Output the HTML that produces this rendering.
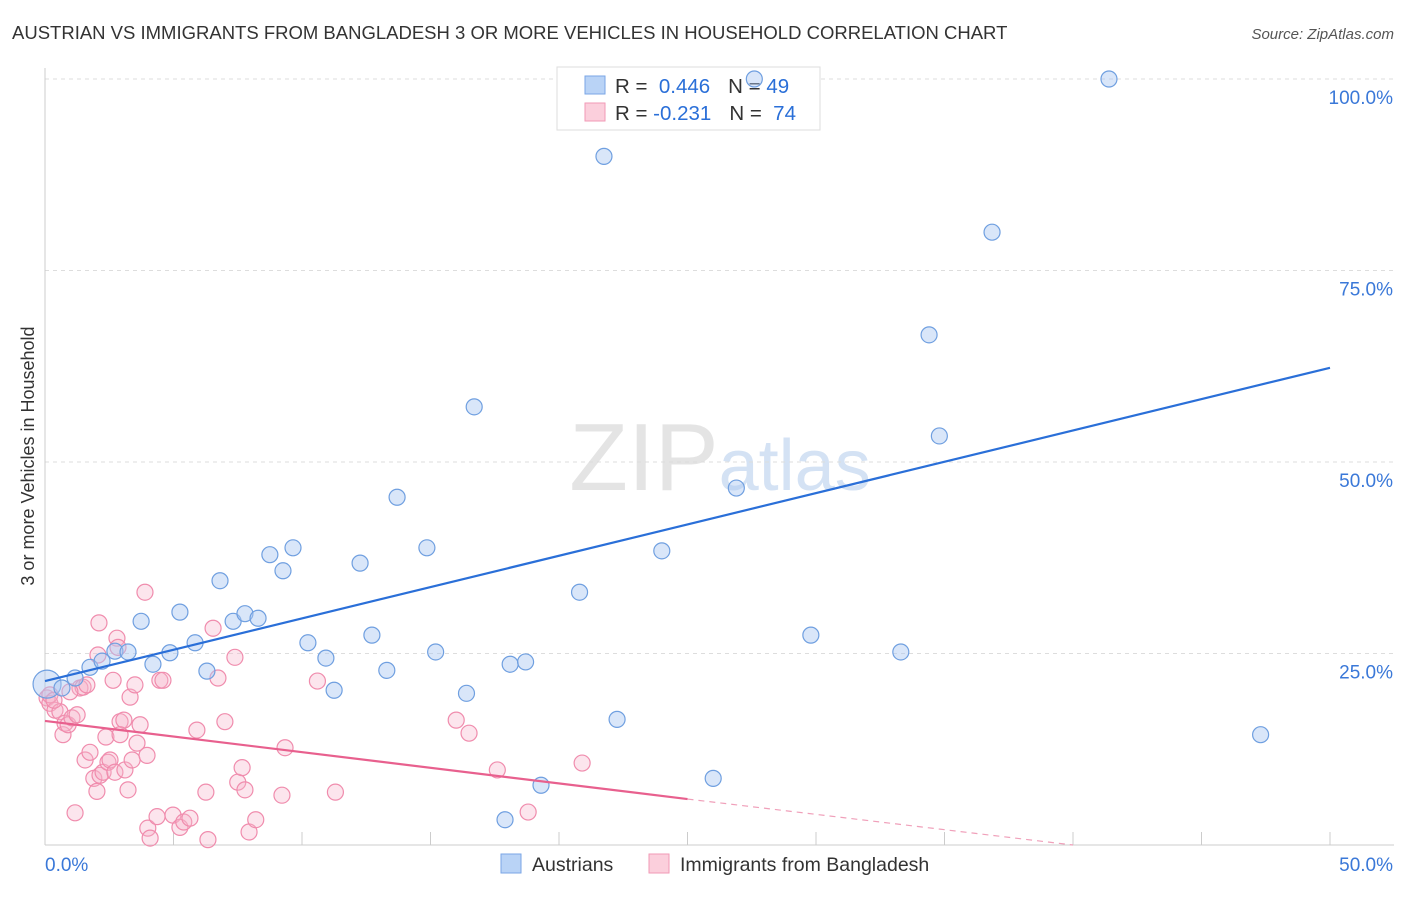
<!DOCTYPE html>
<html><head><meta charset="utf-8"><style>
body{margin:0;background:#fff;font-family:"Liberation Sans",sans-serif;}
svg text{font-family:"Liberation Sans",sans-serif;}
</style></head><body>
<svg id="chart" width="1406" height="892">
<text x="12" y="39" font-size="18.5" fill="#333">AUSTRIAN VS IMMIGRANTS FROM BANGLADESH 3 OR MORE VEHICLES IN HOUSEHOLD CORRELATION CHART</text>
<text x="1394" y="39" font-size="15" fill="#555" font-style="italic" text-anchor="end">Source: ZipAtlas.com</text>
<text x="720" y="490" font-size="96" fill="#e4e4e4" text-anchor="middle" font-family="Liberation Serif">ZIP<tspan fill="#d4e2f4" font-family="Liberation Sans" font-size="72">atlas</tspan></text>
<text transform="translate(34,456) rotate(-90)" font-size="18" fill="#333" text-anchor="middle">3 or more Vehicles in Household</text>
<g id="grid"></g><g id="ticks"></g>
<g>
<rect x="557" y="67" width="263" height="63" fill="#fff" stroke="#ddd"/>
<rect x="585" y="76" width="20" height="18" fill="#b9d3f6" stroke="#7aa6e6"/>
<rect x="585" y="103" width="20" height="18" fill="#fbcfdc" stroke="#f19ab6"/>
<text x="615" y="93" font-size="20.5" fill="#333">R = <tspan fill="#2a6fd8">&#160;0.446</tspan><tspan dx="18">N = </tspan><tspan fill="#2a6fd8">49</tspan></text>
<text x="615" y="120" font-size="20.5" fill="#333">R = <tspan fill="#2a6fd8">-0.231</tspan><tspan dx="18">N = </tspan><tspan fill="#2a6fd8">&#160;74</tspan></text>
</g>
<g id="marks"></g>
<g>
<rect x="501" y="854" width="20" height="19" fill="#b9d3f6" stroke="#7aa6e6"/>
<text x="532" y="871" font-size="19.5" fill="#333">Austrians</text>
<rect x="649" y="854" width="20" height="19" fill="#fbcfdc" stroke="#f19ab6"/>
<text x="680" y="871" font-size="19.5" fill="#333">Immigrants from Bangladesh</text>
</g>
</svg>
<script>
const yTicks=[100,75,50,25];
const yTickLabels=["100.0%","75.0%","50.0%","25.0%"];
const xLabels=["0.0%","50.0%"];
const blueX=[0.08,0.66,1.17,1.75,2.22,2.72,3.23,3.74,4.2,4.86,5.25,5.84,6.3,6.81,7.32,7.78,8.29,8.75,9.26,9.65,10.23,10.93,11.25,12.26,12.72,13.3,13.7,14.86,15.2,16.4,16.7,18.1,18.7,19.3,17.9,20.8,21.75,22.26,24.0,26.0,26.9,27.6,29.8,33.3,34.4,34.8,36.85,41.4,47.3];
const blueY=[21.0,20.5,21.8,23.2,24.0,25.3,25.2,29.2,23.6,25.1,30.4,26.4,22.7,34.5,29.2,30.2,29.6,37.9,35.8,38.8,26.4,24.4,20.2,36.8,27.4,22.8,45.4,38.8,25.2,19.8,57.2,23.6,23.9,7.8,3.3,33.0,89.9,16.4,38.4,8.7,46.6,100,27.4,25.2,66.6,53.4,80.0,100,14.4];
const pinkX=[.08,.19,.39,.58,.7,.78,.9,1.05,1.17,1.36,1.48,1.56,1.63,1.75,1.9,2.02,2.06,2.1,2.14,2.26,2.37,2.45,2.53,2.65,2.72,2.8,2.84,2.92,3.07,3.11,3.23,3.31,3.39,3.5,3.58,3.89,3.97,4.0,4.09,4.36,4.47,4.59,4.98,5.25,5.4,5.64,5.91,6.26,6.34,6.54,6.73,7.0,7.39,7.5,7.67,7.78,7.94,8.2,9.22,9.34,10.6,11.3,16.0,16.5,17.6,18.8,20.9,.19,.35,1.25,.97,2.92,3.7];
const pinkY=[19.2,18.5,17.6,17.4,14.4,15.9,15.7,16.6,4.2,20.5,20.6,11.1,20.9,12.1,8.7,7.0,24.8,29.0,9.1,9.5,14.1,10.8,11.1,21.5,9.5,27.0,25.8,16.1,16.3,9.8,7.2,19.3,11.1,20.9,13.3,33.0,11.7,2.2,0.9,3.7,21.5,21.5,3.9,2.3,3.0,3.5,15.0,6.9,0.7,28.3,21.8,16.1,24.5,8.2,10.1,7.2,1.7,3.3,6.5,12.7,21.4,6.9,16.3,14.6,9.8,4.3,10.7,19.6,18.9,17.0,20.0,14.4,15.7];
const blueTrend=[[0,21.4],[50,62.3]];
const pinkTrend=[[0,16.2],[25,6.0]];
const pinkDash=[[25,6.0],[40,0]];
const NS="http://www.w3.org/2000/svg";
const sx=v=>45+v/50*1285, sy=v=>845-v/100*766;
function mk(t,a,p){const e=document.createElementNS(NS,t);for(const k in a)e.setAttribute(k,a[k]);p.appendChild(e);return e;}
const grid=document.getElementById('grid'),ticks=document.getElementById('ticks'),marks=document.getElementById('marks');
let gl=mk('line',{x1:45,x2:1394,y1:79,y2:79,stroke:'#ddd','stroke-dasharray':'4,4'},grid);


yTicks.forEach((t,i)=>{
 const l=mk('line',{x1:45,x2:1394,y1:sy(t),y2:sy(t),stroke:'#ddd','stroke-dasharray':'4,4'},grid);
 
 
 const tx=mk('text',{x:1393,y:sy(t)+25,'font-size':19,fill:'#3a78d8','text-anchor':'end'},ticks);
 tx.textContent=yTickLabels[i];
 
 
});
let ax=mk('line',{x1:45,x2:45,y1:68,y2:845,stroke:'#ccc'},grid);


let bx=mk('line',{x1:45,x2:1394,y1:845,y2:845,stroke:'#ccc'},grid);


for(let v=0;v<=50;v+=5){
 const t=mk('line',{x1:sx(v),x2:sx(v),y1:832,y2:845,stroke:'#ccc'},ticks);
 
 
}
[[0,'start',45],[50,'end',1393]].forEach((d,i)=>{
 const t=mk('text',{x:d[2],y:871,'font-size':19,fill:'#3a78d8','text-anchor':d[1]},ticks);
 t.textContent=xLabels[i];
 
 
});
pinkX.forEach((x,i)=>{
 const c=mk('circle',{cx:sx(x),cy:sy(pinkY[i]),r:8,fill:'rgba(247,180,202,0.35)',stroke:'#f08cad','stroke-width':1.2},marks);
 
 
});
blueX.forEach((x,i)=>{
 const c=mk('circle',{cx:sx(x),cy:sy(blueY[i]),r:i==0?14:8,fill:'rgba(170,200,242,0.45)',stroke:'#6f9fe0','stroke-width':1.2},marks);
 
 
});
let bl=mk('line',{x1:sx(blueTrend[0][0]),y1:sy(blueTrend[0][1]),x2:sx(blueTrend[1][0]),y2:sy(blueTrend[1][1]),stroke:'#2a6fd8','stroke-width':2.2},marks);


let pl=mk('line',{x1:sx(pinkTrend[0][0]),y1:sy(pinkTrend[0][1]),x2:sx(pinkTrend[1][0]),y2:sy(pinkTrend[1][1]),stroke:'#e8608e','stroke-width':2.2},marks);


let pd=mk('line',{x1:sx(pinkDash[0][0]),y1:sy(pinkDash[0][1]),x2:sx(pinkDash[1][0]),y2:sy(pinkDash[1][1]),stroke:'#f0a0ba','stroke-width':1.2,'stroke-dasharray':'6,5'},marks);


</script>
</body></html>
